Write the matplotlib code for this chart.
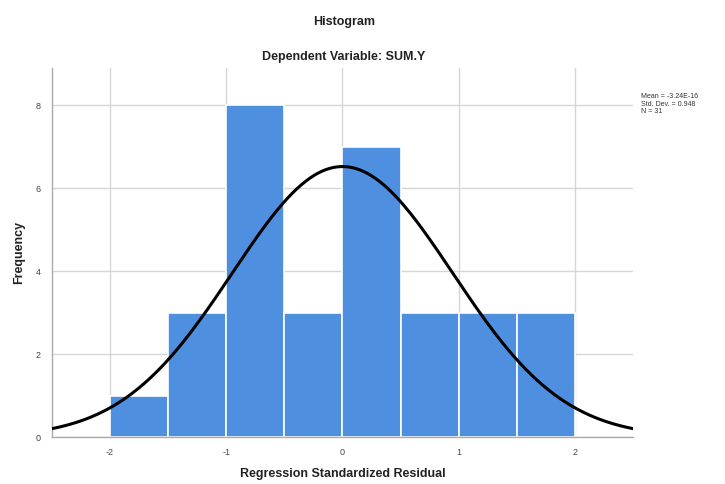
import numpy as np
import matplotlib.pyplot as plt

plt.rcParams['font.family'] = ['Liberation Sans', 'DejaVu Sans']

# residual histogram: bin edges and counts
bin_edges = [-2.0, -1.5, -1.0, -0.5, 0.0, 0.5, 1.0, 1.5, 2.0]
counts = [1, 3, 8, 3, 7, 3, 3, 3]
mean = -3.24e-16
std_dev = 0.948
n = 31

x_ticks = [-2, -1, 0, 1, 2]
y_ticks = [0, 2, 4, 6, 8]

fig = plt.figure(figsize=(7.25, 4.84), dpi=100)
ax = fig.add_axes([0.0717, 0.0971, 0.8014, 0.7624])

lefts = bin_edges[:-1]
widths = np.diff(bin_edges)
ax.bar(lefts, counts, width=widths, align='edge', color='#4f8fdf',
       edgecolor='white', linewidth=1.2, zorder=2)

# normal curve scaled to the histogram
xs = np.linspace(-2.5, 2.5, 400)
bw = widths[0]
ys = n * bw / (std_dev * np.sqrt(2 * np.pi)) * np.exp(-0.5 * ((xs - mean) / std_dev) ** 2)
ax.plot(xs, ys, color='black', linewidth=2.2, zorder=3)

ax.set_xlim(-2.5, 2.5)
ax.set_ylim(0, 8.9)
ax.set_xticks(x_ticks)
ax.set_yticks(y_ticks)
ax.set_xticklabels([str(t) for t in x_ticks], fontsize=6.5, color='#444444')
ax.set_yticklabels([str(t) for t in y_ticks], fontsize=6.5, color='#444444')
ax.tick_params(length=0, pad=8)
ax.grid(True, color='#d6d6d6', linewidth=1, zorder=0)
ax.set_axisbelow(True)

for side in ['top', 'right']:
    ax.spines[side].set_visible(False)
for side in ['left', 'bottom']:
    ax.spines[side].set_color('#aaaaaa')
    ax.spines[side].set_linewidth(1)

ax.set_xlabel('Regression Standardized Residual', fontsize=9, fontweight='bold',
              color='#222222', labelpad=8)
ax.set_ylabel('Frequency', fontsize=9, fontweight='bold', color='#222222', labelpad=8)

fig.text(0.474, 0.955, 'Histogram', ha='center', va='center', fontsize=9,
         fontweight='bold', color='#222222')
fig.text(0.474, 0.882, 'Dependent Variable: SUM.Y', ha='center', va='center',
         fontsize=9, fontweight='bold', color='#222222')

stats = 'Mean = %.2E\nStd. Dev. = %.3f\nN = %d' % (mean, std_dev, n)
fig.text(0.884, 0.807, stats, ha='left', va='top', fontsize=5, color='#333333',
         linespacing=1.1)

fig.savefig('out.png', dpi=100)
